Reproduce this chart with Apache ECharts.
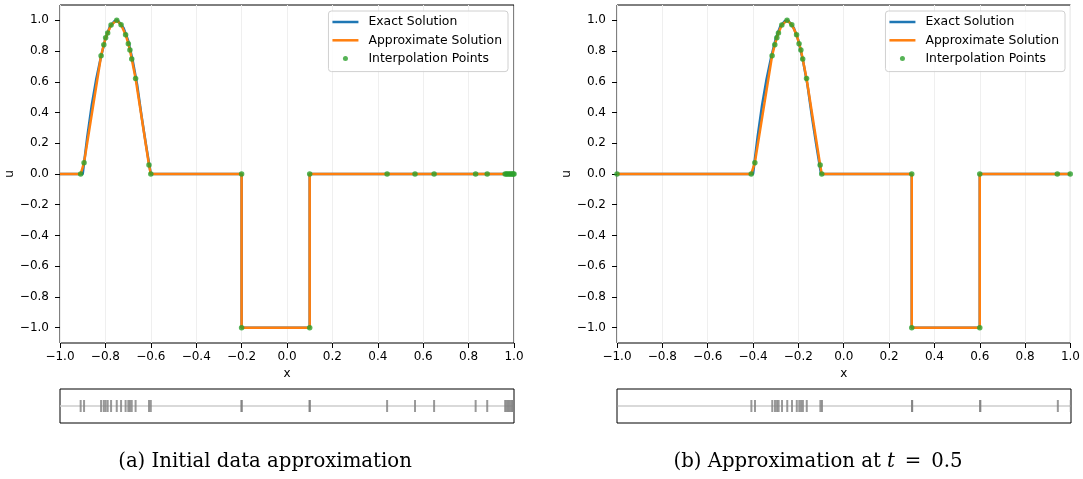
<!DOCTYPE html>
<html>
<head>
<meta charset="utf-8">
<script src="https://cdn.jsdelivr.net/npm/echarts@6/dist/echarts.min.js"></script>
<style>
  html, body { margin: 0; padding: 0; background: #fff; }
  #chart { width: 1083px; height: 479px; }
</style>
</head>
<body>
<div id="chart"></div>
<script>
// ---- Panel (a): initial data ----
const exactAX = [-1, -0.9, -0.88, -0.86, -0.84, -0.82, -0.80, -0.78, -0.76, -0.75, -0.74, -0.72, -0.70, -0.68, -0.66, -0.64, -0.62, -0.60, -0.2, -0.2, 0.1, 0.1, 1];
const exactAU = [0, 0, 0.24, 0.45, 0.62, 0.76, 0.88, 0.96, 0.995, 1, 0.99, 0.95, 0.87, 0.74, 0.58, 0.37, 0.18, 0, 0, -1, -1, 0, 0];
const nodesAX = [-0.909, -0.894, -0.819, -0.807, -0.799, -0.790, -0.775, -0.750, -0.731, -0.711, -0.699, -0.692, -0.684, -0.667, -0.608, -0.600, -0.2, -0.2, 0.1, 0.1, 0.441, 0.564, 0.648, 0.831, 0.882, 0.961, 0.967, 0.973, 0.979, 0.985, 0.991, 0.996, 1.0];
const nodesAU = [0, 0.074, 0.770, 0.841, 0.887, 0.918, 0.970, 1.0, 0.972, 0.907, 0.848, 0.807, 0.748, 0.622, 0.059, 0, 0, -1, -1, 0, 0, 0, 0, 0, 0, 0, 0, 0, 0, 0, 0, 0, 0];
// the interpolant is continued flat to the left boundary
const boundaryAX = [-1];
const boundaryAU = [0];

// ---- Panel (b): t = 0.5 ----
const exactBX = [-1, -0.4, -0.38, -0.36, -0.34, -0.32, -0.30, -0.28, -0.26, -0.25, -0.24, -0.22, -0.20, -0.18, -0.16, -0.14, -0.12, -0.10, 0.3, 0.3, 0.6, 0.6, 1];
const exactBU = [0, 0, 0.24, 0.45, 0.62, 0.76, 0.88, 0.96, 0.995, 1, 0.99, 0.95, 0.87, 0.74, 0.58, 0.37, 0.18, 0, 0, -1, -1, 0, 0];
const nodesBX = [-1.0, -0.408, -0.392, -0.316, -0.304, -0.295, -0.288, -0.273, -0.250, -0.229, -0.208, -0.197, -0.189, -0.181, -0.164, -0.104, -0.097, 0.3, 0.3, 0.6, 0.6, 0.942, 0.999];
const nodesBU = [0, 0, 0.074, 0.770, 0.841, 0.887, 0.918, 0.970, 1.0, 0.972, 0.907, 0.848, 0.807, 0.748, 0.622, 0.059, 0, 0, -1, -1, 0, 0, 0];

// ---- Axes ----
const yTickValues = [-1.0, -0.8, -0.6, -0.4, -0.2, 0.0, 0.2, 0.4, 0.6, 0.8, 1.0];
const xMin = -1, xMax = 1, xStep = 0.2;
const yMin = -1.1, yMax = 1.1;

const seriesNames = ['Exact Solution', 'Approximate Solution', 'Interpolation Points'];
const captionA = '(a) Initial data approximation';
const captionB = ['(b) Approximation at ', 't', '\u2002=\u20020.5'];

const C_EXACT = '#1f77b4', C_APPROX = '#ff7f0e', C_NODE = '#2ca02c';
const FONT = 'DejaVu Sans';
const TICK_FS = 12, LEGEND_FS = 12.4;

const zip = (xs, us) => xs.map((x, i) => [x, us[i]]);
const fmt = v => (Math.abs(v) < 1e-9 ? 0 : v).toFixed(1).replace('-', '\u2212');

const panels = [
  { left: 60, ex: exactAX, eu: exactAU, nx: boundaryAX.concat(nodesAX), nu: boundaryAU.concat(nodesAU), px: nodesAX, pu: nodesAU },
  { left: 617, ex: exactBX, eu: exactBU, nx: nodesBX, nu: nodesBU, px: nodesBX, pu: nodesBU }
];
const PW = 454, PTOP = 5, PH = 338, STOP = 389, SH = 34;

const grid = [], xAxis = [], yAxis = [], series = [], legend = [];
const lineIcon = 'path://M0,0H26V2.5H0Z';

panels.forEach((p, k) => {
  const gMain = grid.length;
  grid.push({ left: p.left, top: PTOP, width: PW, height: PH, show: true, borderColor: '#000', borderWidth: 1, backgroundColor: 'transparent' });
  const gStrip = grid.length;
  grid.push({ left: p.left, top: STOP, width: PW, height: SH, show: true, borderColor: '#000', borderWidth: 1, backgroundColor: 'transparent' });

  xAxis.push({
    type: 'value', gridIndex: gMain, min: xMin, max: xMax, interval: xStep, position: 'bottom',
    name: 'x', nameLocation: 'middle', nameGap: 22,
    nameTextStyle: { fontFamily: FONT, fontSize: TICK_FS, color: '#000' },
    axisLine: { show: false, onZero: false },
    axisTick: { show: true, length: 5, lineStyle: { color: '#000' } },
    axisLabel: { margin: 8, fontFamily: FONT, fontSize: TICK_FS, color: '#000', formatter: fmt },
    splitLine: { show: true, lineStyle: { color: '#efefef', width: 1 } }
  });
  yAxis.push({
    type: 'value', gridIndex: gMain, min: yMin, max: yMax, position: 'left',
    name: 'u', nameLocation: 'middle', nameGap: 41, nameRotate: 90,
    nameTextStyle: { fontFamily: FONT, fontSize: TICK_FS, color: '#000' },
    axisLine: { show: false, onZero: false },
    axisTick: { show: true, length: 5, lineStyle: { color: '#000' }, customValues: yTickValues },
    axisLabel: { margin: 11, fontFamily: FONT, fontSize: TICK_FS, color: '#000', formatter: fmt, customValues: yTickValues },
    splitLine: { show: false }
  });
  xAxis.push({ type: 'value', gridIndex: gStrip, min: xMin, max: xMax, show: false });
  yAxis.push({ type: 'value', gridIndex: gStrip, min: 0, max: 1, show: false });

  const xi = xAxis.length - 2, yi = yAxis.length - 2;
  series.push({
    name: seriesNames[0], type: 'line', xAxisIndex: xi, yAxisIndex: yi,
    data: zip(p.ex, p.eu), symbol: 'none', z: 2,
    lineStyle: { color: C_EXACT, width: 2.5 }, itemStyle: { color: C_EXACT }
  });
  series.push({
    name: seriesNames[1], type: 'line', xAxisIndex: xi, yAxisIndex: yi,
    data: zip(p.nx, p.nu), symbol: 'none', z: 3,
    lineStyle: { color: C_APPROX, width: 2.5 }, itemStyle: { color: C_APPROX }
  });
  series.push({
    name: seriesNames[2], type: 'scatter', xAxisIndex: xi, yAxisIndex: yi,
    data: zip(p.px, p.pu), symbol: 'circle', symbolSize: 5.5, z: 4,
    itemStyle: { color: C_NODE }
  });
  // node locations shown as a strip of ticks under each panel
  series.push({
    type: 'scatter', xAxisIndex: xi + 1, yAxisIndex: yi + 1,
    data: p.px.map(x => [x, 0.5]), symbol: 'rect', symbolSize: [2, 12], z: 3,
    itemStyle: { color: '#808080' }, silent: true,
    markLine: {
      silent: true, symbol: 'none', z: 1, label: { show: false },
      lineStyle: { color: '#cccccc', width: 1.5, type: 'solid' },
      data: [{ yAxis: 0.5 }]
    }
  });

  legend.push({
    data: [
      { name: seriesNames[0], icon: lineIcon },
      { name: seriesNames[1], icon: lineIcon },
      { name: seriesNames[2] }
    ],
    orient: 'vertical',
    right: k === 0 ? 575 : 18, top: 11,
    itemWidth: 26, itemHeight: 5, itemGap: 4.3,
    padding: [4, 6, 6, 4],
    backgroundColor: 'rgba(255,255,255,0.8)', borderColor: '#d0d0d0', borderWidth: 1, borderRadius: 3,
    selectedMode: false,
    textStyle: { fontFamily: FONT, fontSize: LEGEND_FS, color: '#000', lineHeight: 14, padding: [0, 0, 0, 5] }
  });
});

const option = {
  animation: false,
  backgroundColor: '#fff',
  grid, xAxis, yAxis, series, legend,
  graphic: [
    {
      type: 'text', x: 265, y: 462,
      style: { text: captionA, font: '19.7px "DejaVu Serif"', fill: '#000', textAlign: 'center', textVerticalAlign: 'middle' }
    },
    {
      type: 'text', x: 818, y: 462,
      style: {
        text: '{r|' + captionB[0] + '}{i|' + captionB[1] + '}{r|' + captionB[2] + '}',
        textAlign: 'center', textVerticalAlign: 'middle', fill: '#000',
        rich: {
          r: { fontFamily: 'DejaVu Serif', fontSize: 19.7, fill: '#000' },
          i: { fontFamily: 'DejaVu Serif', fontSize: 19.7, fontStyle: 'italic', fill: '#000' }
        }
      }
    }
  ]
};

const chart = echarts.init(document.getElementById('chart'), null, { renderer: 'canvas' });
chart.setOption(option);
</script>
</body>
</html>
